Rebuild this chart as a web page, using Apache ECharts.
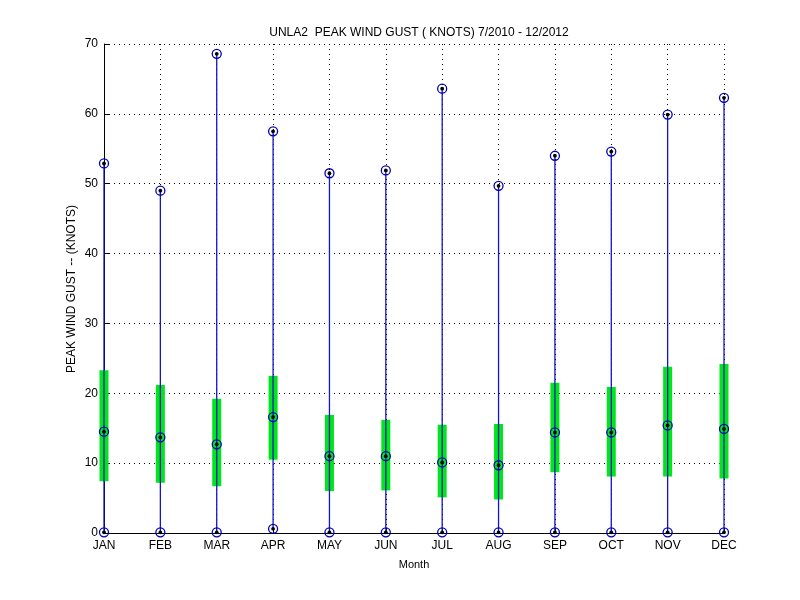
<!DOCTYPE html>
<html>
<head>
<meta charset="utf-8">
<script src="https://cdn.jsdelivr.net/npm/echarts@6/dist/echarts.min.js"></script>
<style>html,body{margin:0;padding:0;background:#fff}#main{width:800px;height:600px}</style>
</head>
<body>
<div id="main"></div>
<script>
var months = ['JAN','FEB','MAR','APR','MAY','JUN','JUL','AUG','SEP','OCT','NOV','DEC'];
var gustMin = [0.1, 0.1, 0.1, 0.6, 0.1, 0.1, 0.1, 0.1, 0.1, 0.1, 0.1, 0.1];
var gustQ1 = [7.4, 7.2, 6.7, 10.5, 6.0, 6.1, 5.1, 4.8, 8.7, 8.1, 8.1, 7.8];
var gustMedian = [14.5, 13.7, 12.7, 16.6, 11.0, 11.0, 10.1, 9.7, 14.4, 14.4, 15.4, 14.9];
var gustQ3 = [23.3, 21.2, 19.2, 22.5, 16.9, 16.2, 15.5, 15.6, 21.5, 20.9, 23.8, 24.2];
var gustMax = [52.9, 49.0, 68.6, 57.5, 51.5, 51.9, 63.6, 49.7, 54.0, 54.6, 59.9, 62.3];

var chart = echarts.init(document.getElementById('main'));

// one row per month: [x, min, q1, median, q3, max]
var rows = months.map(function (m, i) {
    return [i + 1, gustMin[i], gustQ1[i], gustMedian[i], gustQ3[i], gustMax[i]];
});

function marker(p) {
    return [{
        type: 'circle',
        shape: {cx: p[0], cy: p[1], r: 4.5},
        style: {fill: 'none', stroke: '#0000b4', lineWidth: 1.3}
    }, {
        type: 'circle',
        shape: {cx: p[0], cy: p[1], r: 1.9},
        style: {fill: '#000'}
    }];
}

var font = 'Liberation Sans';

chart.setOption({
    backgroundColor: '#fff',
    animation: false,
    title: {
        text: 'UNLA2  PEAK WIND GUST ( KNOTS) 7/2010 - 12/2012',
        left: 414, top: 22, textAlign: 'center',
        textStyle: {fontFamily: font, fontSize: 12, fontWeight: 'normal', color: '#000'}
    },
    // y axis title placed by hand, the axis name kept getting pushed left
    graphic: [{
        type: 'text',
        x: 72, y: 289,
        rotation: Math.PI / 2,
        style: {
            text: 'PEAK WIND GUST -- (KNOTS)',
            fontFamily: font, fontSize: 12, fill: '#000',
            align: 'center', verticalAlign: 'middle'
        }
    }],
    grid: {left: 104, right: 76, top: 44, bottom: 67},
    xAxis: {
        type: 'value', min: 1, max: 12, interval: 1,
        name: 'Month', nameLocation: 'middle', nameGap: 26,
        nameTextStyle: {fontFamily: font, fontSize: 11, color: '#000'},
        axisLine: {lineStyle: {color: '#000', width: 1}},
        axisTick: {inside: true, length: 5, lineStyle: {color: '#000'}},
        axisLabel: {
            fontFamily: font, fontSize: 12, color: '#000', margin: 7,
            formatter: function (v) { return months[v - 1] || ''; }
        },
        splitLine: {show: true, lineStyle: {color: '#000', type: [1, 4], width: 1}}
    },
    yAxis: {
        type: 'value', min: 0, max: 70, interval: 10,
        axisLine: {show: true, lineStyle: {color: '#000', width: 1}},
        axisTick: {show: true, inside: true, length: 5, lineStyle: {color: '#000'}},
        axisLabel: {fontFamily: font, fontSize: 12, color: '#000', margin: 6},
        splitLine: {show: true, lineStyle: {color: '#000', type: [1, 4], width: 1}}
    },
    series: [{
        type: 'custom',
        data: rows,
        clip: false,
        renderItem: function (params, api) {
            var x = api.value(0);
            var pMin = api.coord([x, api.value(1)]);
            var pQ1 = api.coord([x, api.value(2)]);
            var pMed = api.coord([x, api.value(3)]);
            var pQ3 = api.coord([x, api.value(4)]);
            var pMax = api.coord([x, api.value(5)]);
            var children = [{
                type: 'rect',
                shape: {x: pQ1[0] - 4.5, y: pQ3[1], width: 9, height: pQ1[1] - pQ3[1]},
                style: {fill: '#00e61a'}
            }, {
                type: 'line',
                shape: {x1: pMin[0], y1: pMin[1], x2: pMax[0], y2: pMax[1]},
                style: {stroke: '#1414c8', lineWidth: 1.3}
            }];
            children = children.concat(marker(pMin), marker(pMed), marker(pMax));
            return {type: 'group', children: children};
        }
    }]
});
</script>
</body>
</html>
